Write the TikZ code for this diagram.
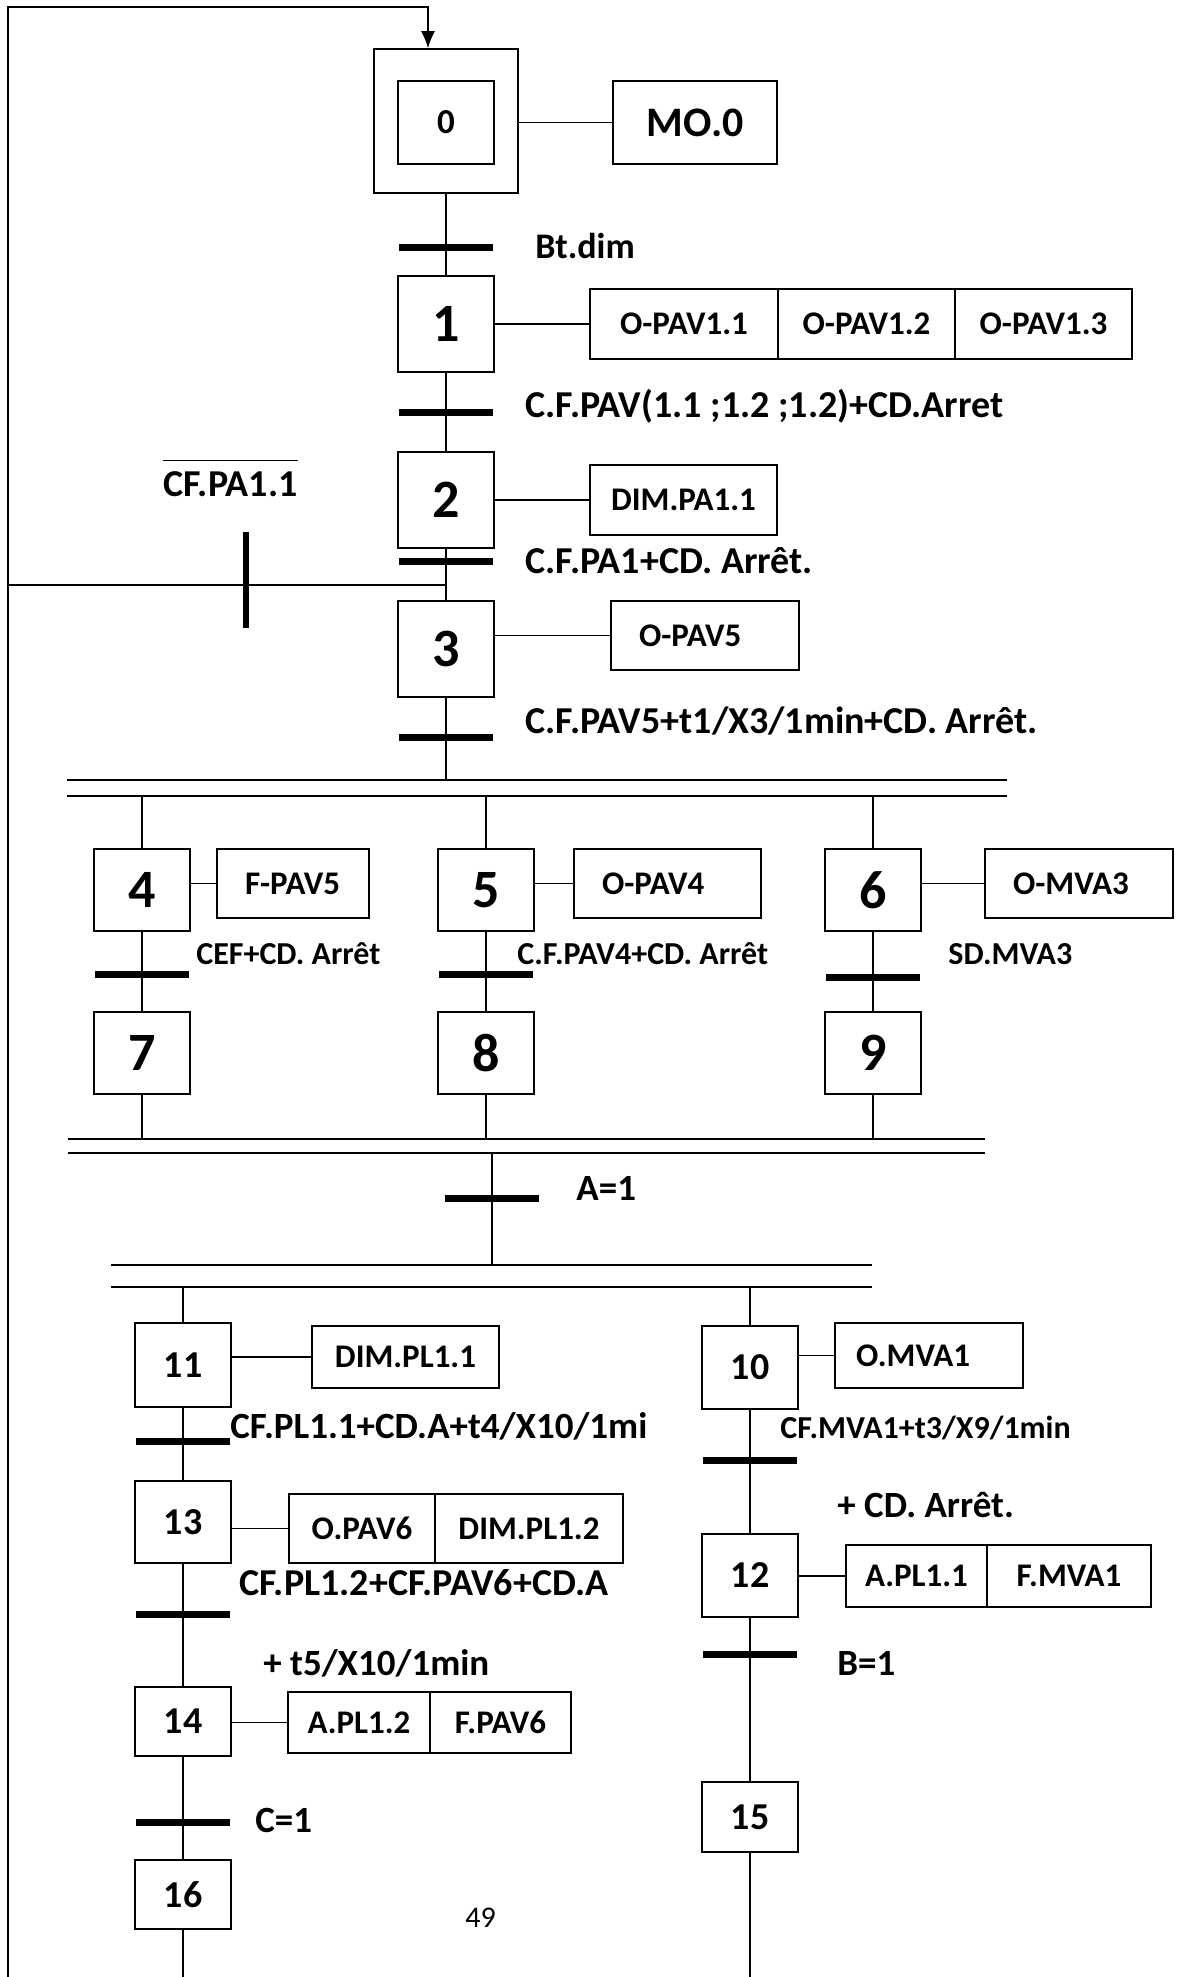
\documentclass[tikz,border=0pt]{standalone}
\usepackage{fontspec}
\setmainfont{Carlito}
\usetikzlibrary{arrows.meta,positioning}

\begin{document}
\begin{tikzpicture}[
x=0.5pt, y=-0.5pt,
lien/.style={line width=0.7pt},
sync/.style={line width=1.1pt},
etape/.style={draw, line width=0.8pt, minimum width=48pt, minimum height=48pt, inner sep=0pt, font=\fontsize{27}{30}\selectfont\bfseries},
petite/.style={etape, minimum height=41.5pt, font=\fontsize{19}{22}\selectfont\bfseries},
action/.style={draw, line width=0.8pt, outer sep=0pt, inner sep=0pt, minimum height=35pt, font=\fontsize{16.5}{19}\selectfont\bfseries},
gauche/.style={inner xsep=14pt, text width=#1, align=left},
barre/.style={fill=black, inner sep=0pt, minimum width=47pt, minimum height=3.5pt},
recept/.style={anchor=base west, inner sep=0pt, font=\fontsize{16}{19}\selectfont\bfseries},
moyen/.style={font=\fontsize{18.5}{22}\selectfont\bfseries},
grand/.style={font=\fontsize{19}{22}\selectfont\bfseries},
fleche/.style={lien, -{Latex[length=8.5pt, width=7pt]}}
]
\useasboundingbox (0,0) rectangle (1181,1977);

% sequence initiale
\node[etape, minimum size=72pt] (e0) at (446,121) {};
\node[petite, font=\fontsize{17.5}{20}\selectfont\bfseries] (e0i) at (446,122.5) {0};
\node[etape] (e1) at (446,324) {1};
\node[etape] (e2) at (446,500) {2};
\node[etape] (e3) at (446,649) {3};

\node[action, minimum width=82pt, minimum height=41.5pt, font=\fontsize{21}{24}\selectfont\bfseries] (a0) at (695,122.5) {MO.0};
\node[action, minimum width=94pt] (a1a) at (684,324) {O-PAV1.1};
\node[action, minimum width=88.5pt, right=0pt of a1a] (a1b) {O-PAV1.2};
\node[action, minimum width=88.5pt, right=0pt of a1b] (a1c) {O-PAV1.3};
\node[action, minimum width=93.5pt] (a2) at (683.5,500) {DIM.PA1.1};
\node[action, gauche=66pt, minimum height=34.5pt] (a3) at (705,635.5) {O-PAV5};

\node[barre] (t0) at (446,247) {};
\node[barre] (t1) at (446,412) {};
\node[barre] (t2) at (446,561) {};
\node[barre] (t3) at (446,737) {};
\node[barre, minimum width=3pt, minimum height=48pt] (tr) at (246,580) {};

\node[recept, font=\fontsize{18}{21}\selectfont\bfseries] (r0) at (535,258) {Bt.dim};
\node[recept, grand] (r1) at (525,417) {C.F.PAV(1.1 ;1.2 ;1.2)+CD.Arret};
\node[recept, grand] (r2) at (525,573) {C.F.PA1+CD. Arrêt.};
\node[recept, grand] (r3) at (525,733) {C.F.PAV5+t1/X3/1min+CD. Arrêt.};
\node[recept, grand] (rtr) at (163,496) {CF.PA1.1};
\draw[lien] ([yshift=5pt]rtr.north west) -- ([yshift=5pt]rtr.north east);

\coordinate (bas) at (8,1977);
\coordinate (haut) at (8,7);
\coordinate (g2) at (8,585);
\coordinate (j2) at (446,585);

\draw[fleche] (bas) -- (haut) -| ([xshift=-9pt]e0.north);
\draw[lien] (e0) -- (e1);
\draw[lien] (e1) -- (e2);
\draw[lien] (e2) -- (e3);
\draw[lien] (g2) -- (j2);
\draw[lien] (a0.west) -- (a0.west -| e0.east);
\draw[lien] (a1a.west) -- (a1a.west -| e1.east);
\draw[lien] (a2.west) -- (a2.west -| e2.east);
\draw[lien] (a3.west) -- (a3.west -| e3.east);

% divergence en ET
\coordinate (d1hg) at (67,780);  \coordinate (d1hd) at (1007,780);
\coordinate (d1bg) at (67,796);  \coordinate (d1bd) at (1007,796);
\draw[sync] (d1hg) -- (d1hd);
\draw[sync] (d1bg) -- (d1bd);
\draw[lien] (e3) -- (e3 |- d1hg);

\node[etape, minimum height=41pt] (e4) at (142,890) {4};
\node[etape, minimum height=41pt] (e5) at (486,890) {5};
\node[etape, minimum height=41pt] (e6) at (873,890) {6};
\node[etape, minimum height=41pt] (e7) at (142,1053) {7};
\node[etape, minimum height=41pt] (e8) at (486,1053) {8};
\node[etape, minimum height=41pt] (e9) at (873,1053) {9};

\node[action, gauche=48pt, minimum height=34.5pt] (a4) at (293,883.5) {F-PAV5};
\node[action, gauche=65.5pt, minimum height=34.5pt] (a5) at (667.5,883.5) {O-PAV4};
\node[action, gauche=66pt, minimum height=34.5pt] (a6) at (1079,883.5) {O-MVA3};

\node[barre] (t4) at (142,974) {};
\node[barre] (t5) at (486,974) {};
\node[barre] (t6) at (873,977) {};

\node[recept] (r4) at (196,964) {CEF+CD. Arrêt};
\node[recept] (r5) at (517,964) {C.F.PAV4+CD. Arrêt};
\node[recept] (r6) at (948,964) {SD.MVA3};

\draw[lien] (e4) -- (e4 |- d1bg);
\draw[lien] (e5) -- (e5 |- d1bg);
\draw[lien] (e6) -- (e6 |- d1bg);
\draw[lien] (e4) -- (e7);
\draw[lien] (e5) -- (e8);
\draw[lien] (e6) -- (e9);
\draw[lien] (a4.west) -- (a4.west -| e4.east);
\draw[lien] (a5.west) -- (a5.west -| e5.east);
\draw[lien] (a6.west) -- (a6.west -| e6.east);

% convergence en ET
\coordinate (d2hg) at (68,1139);  \coordinate (d2hd) at (985,1139);
\coordinate (d2bg) at (68,1153);  \coordinate (d2bd) at (985,1153);
\draw[sync] (d2hg) -- (d2hd);
\draw[sync] (d2bg) -- (d2bd);
\draw[lien] (e7) -- (e7 |- d2hg);
\draw[lien] (e8) -- (e8 |- d2hg);
\draw[lien] (e9) -- (e9 |- d2hg);

\node[barre] (tA) at (492,1198) {};
\node[recept, moyen] (rA) at (576,1200) {A=1};

% divergence en ET
\coordinate (d3hg) at (111,1265);  \coordinate (d3hd) at (872,1265);
\coordinate (d3bg) at (111,1287);  \coordinate (d3bd) at (872,1287);
\draw[sync] (d3hg) -- (d3hd);
\draw[sync] (d3bg) -- (d3bd);
\draw[lien] (tA |- d2bg) -- (tA |- d3hg);

\node[petite, minimum height=42pt] (e11) at (183,1365) {11};
\node[petite, minimum height=41pt] (e13) at (183,1522) {13};
\node[petite, minimum height=34.5pt] (e14) at (183,1721.5) {14};
\node[petite, minimum height=34.5pt] (e16) at (183,1894.5) {16};
\node[petite] (e10) at (750,1367.5) {10};
\node[petite] (e12) at (750,1575.5) {12};
\node[petite, minimum height=35pt] (e15) at (750,1817) {15};

\node[action, minimum width=93.5pt, minimum height=31pt] (a11) at (405.5,1357) {DIM.PL1.1};
\node[action, gauche=73pt, inner xsep=10.5pt, minimum height=32.5pt] (a10) at (929,1355.5) {O.MVA1};
\node[action, minimum width=73pt, minimum height=34.5pt] (a13a) at (362,1528.5) {O.PAV6};
\node[action, minimum width=94pt, minimum height=34.5pt, right=0pt of a13a] (a13b) {DIM.PL1.2};
\node[action, minimum width=70.5pt, minimum height=31pt] (a12a) at (916.5,1576) {A.PL1.1};
\node[action, minimum width=82pt, minimum height=31pt, right=0pt of a12a] (a12b) {F.MVA1};
\node[action, minimum width=71pt, minimum height=30.5pt] (a14a) at (359,1722.5) {A.PL1.2};
\node[action, minimum width=70.5pt, minimum height=30.5pt, right=0pt of a14a] (a14b) {F.PAV6};

\node[barre] (t11) at (183,1441) {};
\node[barre] (t10) at (750,1460) {};
\node[barre] (t13) at (183,1614) {};
\node[barre] (t12) at (750,1654) {};
\node[barre] (t14) at (183,1822) {};

\node[recept, moyen] (r11) at (230,1438) {CF.PL1.1+CD.A+t4/X10/1mi};
\node[recept] (r10) at (780,1438) {CF.MVA1+t3/X9/1min};
\node[recept, moyen] (r10b) at (837,1517) {+ CD. Arrêt.};
\node[recept, grand] (r13) at (239,1595) {CF.PL1.2+CF.PAV6+CD.A};
\node[recept, moyen] (r13b) at (263,1675) {+ t5/X10/1min};
\node[recept, moyen] (r12) at (837,1675) {B=1};
\node[recept, moyen] (r14) at (255,1832) {C=1};
\node[anchor=base west, inner sep=0pt, font=\fontsize{15}{18}\selectfont] (page) at (465,1927) {49};

\draw[lien] (e11) -- (e11 |- d3bg);
\draw[lien] (e10) -- (e10 |- d3bg);
\draw[lien] (e11) -- (e13);
\draw[lien] (e13) -- (e14);
\draw[lien] (e14) -- (e16);
\draw[lien] (e16) -- (e16 |- bas);
\draw[lien] (e10) -- (e12);
\draw[lien] (e12) -- (e15);
\draw[lien] (e15) -- (e15 |- bas);
\draw[lien] (a11.west) -- (a11.west -| e11.east);
\draw[lien] (a10.west) -- (a10.west -| e10.east);
\draw[lien] (a13a.west) -- (a13a.west -| e13.east);
\draw[lien] (a12a.west) -- (a12a.west -| e12.east);
\draw[lien] (a14a.west) -- (a14a.west -| e14.east);
\end{tikzpicture}
\end{document}
